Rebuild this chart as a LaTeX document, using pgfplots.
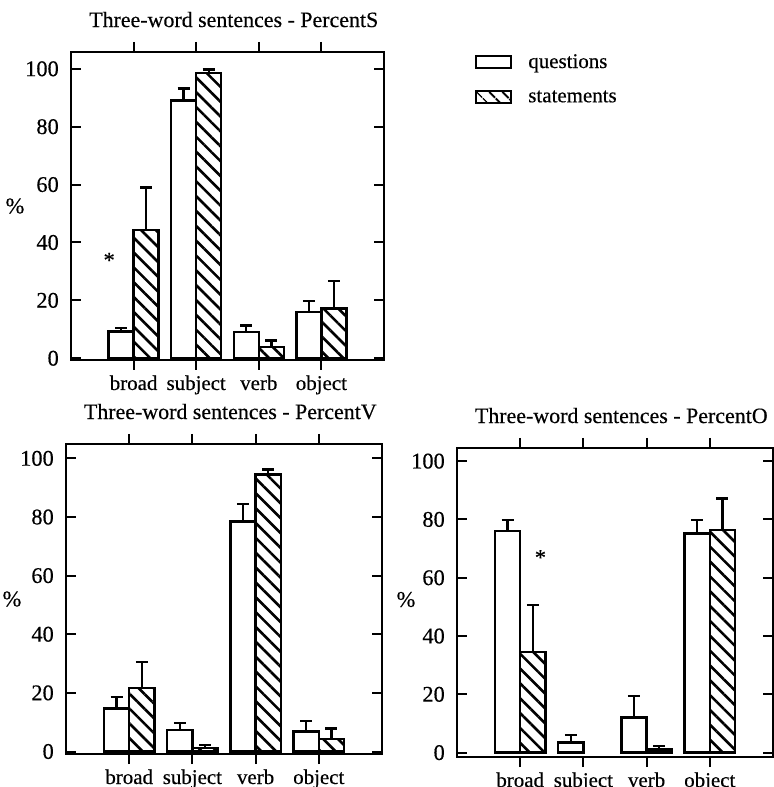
\documentclass[border=0pt]{standalone}
\usepackage{fontspec}
\setmainfont{Liberation Serif}[FakeBold=0.4]
\usepackage{pgfplots}
\pgfplotsset{compat=1.18}
\usepackage{pgfplotstable}
\usetikzlibrary{patterns.meta}

% mean percentage and upper error per category (1 broad, 2 subject, 3 verb, 4 object)
\pgfplotstableread{
x q    qe   s    se
1 9.2  1.2  44.3 14.7
2 89.0 4.2  98.6 1.2
3 9.0  2.3  3.9  2.2
4 16.0 3.7  17.2 9.4
}\percentS

\pgfplotstableread{
x q    qe   s    se
1 14.7 3.8  21.6 9.0
2 7.3  2.5  1.1  1.1
3 78.4 6.0  94.5 1.7
4 6.8  3.7  4.3  3.6
}\percentV

\pgfplotstableread{
x q    qe
1 76.0 3.8
2 3.5  2.6
3 12.0 7.4
4 75.2 4.6
}\percentOq

\pgfplotstableread{
x s    se
1 34.6 16.0
3 1.1  1.2
4 76.3 10.9
}\percentOs

\newcommand{\lbl}{\fontsize{21}{24}\selectfont}
\newcommand{\num}{\fontsize{22.5}{26}\selectfont}
\newcommand{\ttl}{\fontsize{22}{26}\selectfont}

\pgfplotsset{
  panel/.style={
    scale only axis, anchor=south west, clip=false,
    xmin=0, xmax=5,
    xtick={1,2,3,4}, xticklabels={broad,subject,verb,object},
    ytick={0,20,40,60,80,100},
    tick align=inside, major tick length=10bp,
    every tick/.style={black, line width=2bp},
    axis line style={line width=2.4bp},
    xticklabel pos=lower, yticklabel pos=left,
    font=\lbl,
    /pgf/number format/assume math mode=true,
    ybar, bar width=0.4,
    xticklabel style={anchor=base, yshift=-20bp},
    yticklabel style={anchor=east, inner sep=0pt, xshift=-12bp, font=\num},
    title style={at={(0.52,1)}, anchor=base, yshift=19bp, inner sep=0pt, font=\ttl},
    every axis y label/.style={at={(axis description cs:0,0.5)}, anchor=center, font=\num},
    ylabel={\%},
  },
  qbar/.style={draw=black, fill=white, line width=2.4bp, bar shift=-0.2, forget plot,
    error bars/.cd, y dir=plus, y explicit, error mark=-,
    error bar style={line width=2.4bp, black},
    error mark options={rotate=90, line width=2.4bp, mark size=6bp, black}},
  sbar/.style={draw=black, line width=2.4bp, bar shift=0.2, forget plot,
    pattern={Lines[angle=-45, distance=10.5bp, line width=2.6bp]}, pattern color=black,
    error bars/.cd, y dir=plus, y explicit, error mark=-,
    error bar style={line width=2.4bp, black},
    error mark options={rotate=90, line width=2.4bp, mark size=6bp, black}},
}

\begin{document}
\begin{tikzpicture}
\useasboundingbox (0,0) rectangle (774bp,787bp);

% PercentS
\begin{axis}[panel, at={(71bp,427bp)}, width=313bp, height=308bp,
  ymin=-0.6, ymax=105.8,
  title={Three-word sentences - PercentS},
  ylabel style={xshift=-56bp},
  legend style={at={(1.29,1.0)}, anchor=north west, draw=none, fill=none,
    inner sep=0pt, row sep=17bp, column sep=14bp, font=\lbl},
  legend cell align=left]
\addlegendimage{legend image code/.code={\draw[line width=2.2bp, fill=white] (0bp,-6bp) rectangle (35bp,6bp);}}
\addlegendimage{legend image code/.code={\draw[line width=2.2bp, pattern={Lines[angle=-45, distance=10bp, line width=2.4bp]}] (0bp,-6bp) rectangle (35bp,6bp);}}
\legend{questions, statements}
\addplot[qbar] table[x=x, y=q, y error=qe] {\percentS};
\addplot[sbar] table[x=x, y=s, y error=se] {\percentS};
\node[anchor=north, inner sep=0pt, font=\num] at (axis cs:0.61,36.5) {*};
\end{axis}

% PercentV
\begin{axis}[panel, at={(66bp,33bp)}, width=316bp, height=310bp,
  ymin=-0.85, ymax=104.9,
  title={Three-word sentences - PercentV},
  ylabel style={xshift=-54bp}]
\addplot[qbar] table[x=x, y=q, y error=qe] {\percentV};
\addplot[sbar] table[x=x, y=s, y error=se] {\percentV};
\end{axis}

% PercentO
\begin{axis}[panel, at={(457bp,30bp)}, width=316bp, height=309bp,
  ymin=-1.5, ymax=104.5,
  title={Three-word sentences - PercentO},
  ylabel style={xshift=-51bp, yshift=3bp}]
\addplot[qbar] table[x=x, y=q, y error=qe] {\percentOq};
\addplot[sbar] table[x=x, y=s, y error=se] {\percentOs};
\node[anchor=north, inner sep=0pt, font=\num] at (axis cs:1.32,69.5) {*};
\end{axis}
\end{tikzpicture}
\end{document}
